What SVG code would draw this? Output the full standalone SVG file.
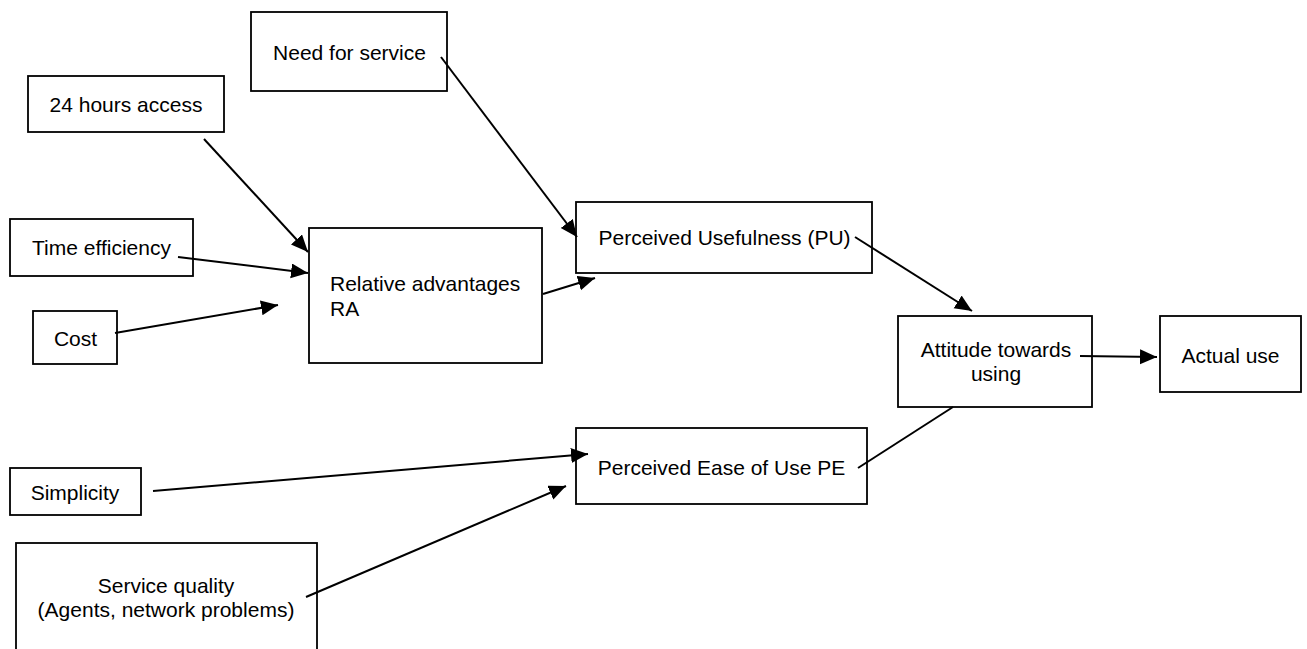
<svg xmlns="http://www.w3.org/2000/svg" width="1307" height="649" viewBox="0 0 1307 649">
<style>
.box{fill:#fff;stroke:#000;stroke-width:1.8}
.t{font-family:"Liberation Sans",Arial,sans-serif;font-size:21px;fill:#000}
.c{text-anchor:middle}
.ln{stroke:#000;stroke-width:2;fill:none}
.ar{marker-end:url(#ah)}
</style>
<defs>
<marker id="ah" markerUnits="userSpaceOnUse" markerWidth="19" markerHeight="16" refX="17" refY="7.5" orient="auto">
<path d="M0,0 L17,7.5 L0,15 z" fill="#000"/>
</marker>
</defs>
<rect width="1307" height="649" fill="#fff"/>
<g id="need">
<rect class="box" x="251" y="12" width="196" height="79"/>
<text class="t c" x="349.5" y="60">Need for service</text>
</g>
<g id="access24">
<rect class="box" x="28" y="76" width="196" height="56"/>
<text class="t c" x="126" y="112">24 hours access</text>
</g>
<g id="time">
<rect class="box" x="10" y="219" width="183" height="57"/>
<text class="t c" x="101.5" y="255">Time efficiency</text>
</g>
<g id="cost">
<rect class="box" x="33" y="311" width="84" height="53"/>
<text class="t c" x="75.5" y="346">Cost</text>
</g>
<g id="ra">
<rect class="box" x="309" y="228" width="233" height="135"/>
<text class="t" x="330" y="291">Relative advantages</text>
<text class="t" x="330" y="316">RA</text>
</g>
<g id="pu">
<rect class="box" x="576" y="202" width="296" height="71"/>
<text class="t c" x="724.5" y="245">Perceived Usefulness (PU)</text>
</g>
<g id="attitude">
<rect class="box" x="898" y="316" width="194" height="91"/>
<text class="t c" x="996" y="357">Attitude towards</text>
<text class="t c" x="996" y="381">using</text>
</g>
<g id="actual">
<rect class="box" x="1160" y="316" width="141" height="76"/>
<text class="t c" x="1230.5" y="363">Actual use</text>
</g>
<g id="pe">
<rect class="box" x="576" y="428" width="291" height="76"/>
<text class="t c" x="721.5" y="475">Perceived Ease of Use PE</text>
</g>
<g id="simplicity">
<rect class="box" x="10" y="468" width="131" height="47"/>
<text class="t c" x="75" y="500">Simplicity</text>
</g>
<g id="service">
<rect class="box" x="16" y="543" width="301" height="120"/>
<text class="t c" x="166" y="593">Service quality</text>
<text class="t c" x="166" y="617">(Agents, network problems)</text>
</g>
<g id="connectors">
<line class="ln ar" x1="204" y1="139" x2="308" y2="252"/>
<line class="ln ar" x1="178" y1="257" x2="308" y2="273"/>
<line class="ln ar" x1="115" y1="333" x2="278" y2="305"/>
<line class="ln ar" x1="441" y1="57" x2="577" y2="237"/>
<line class="ln ar" x1="543" y1="294" x2="595" y2="278"/>
<line class="ln ar" x1="855" y1="237" x2="972" y2="311"/>
<line class="ln ar" x1="1080" y1="356" x2="1157" y2="357"/>
<line class="ln" x1="858" y1="468" x2="953" y2="407"/>
<line class="ln ar" x1="153" y1="491" x2="588" y2="454"/>
<line class="ln ar" x1="306" y1="597" x2="566" y2="486"/>
</g>
</svg>
